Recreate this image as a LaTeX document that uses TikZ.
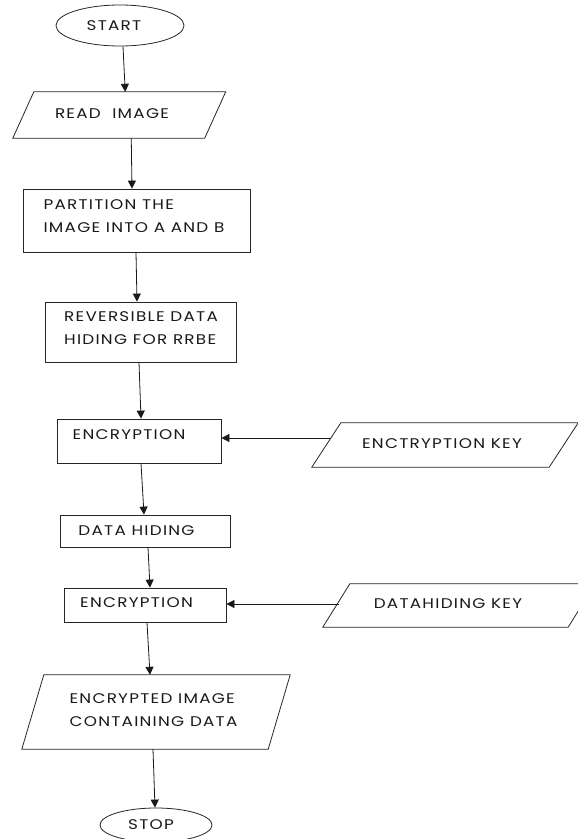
\documentclass[tikz,border=0pt]{standalone}
\usepackage{fontspec}
\setmainfont{Poppins}[LetterSpace=9,FakeStretch=1.2]
\usetikzlibrary{arrows.meta,shapes.geometric,calc}
\newcommand{\parallelo}[2]{%
  \draw[shapeline] ($(#1.south west)+(-#2/2,0)$) -- ($(#1.south east)+(-#2/2,0)$) -- ($(#1.north east)+(#2/2,0)$) -- ($(#1.north west)+(#2/2,0)$) -- cycle;}
\begin{document}
\begin{tikzpicture}[x=1pt,y=-1pt,
  shapeline/.style={draw=black!85, line width=0.8pt},
  arr/.style={draw=black!90, line width=0.8pt, -{Triangle[length=8pt,width=8pt]}},
  box/.style={shapeline, rectangle, inner sep=0pt},
  term/.style={shapeline, ellipse, inner sep=0pt},
  io/.style={rectangle, inner sep=0pt},
  txt/.style={inner sep=0pt, align=left, text=black!90, font=\fontsize{14}{23}\selectfont}]
\clip (0,0) rectangle (578,839);
\fill[white] (0,0) rectangle (578,839);
% shapes
\node[term, minimum width=128pt, minimum height=41pt] (start) at (120,25.5) {};
\node[txt] (tstart) at (114,26) {START};
\node[io, minimum width=191.5pt, minimum height=46pt] (read) at (119.25,115) {};
\parallelo{read}{21}
\node[txt] (tread) at (112,114) {READ\ \ IMAGE};
\node[box, minimum width=227pt, minimum height=63pt] (part) at (136.5,220.5) {};
\node[txt] (tpart) at (134,216.5) {PARTITION THE\\IMAGE INTO A AND B};
\node[box, minimum width=191pt, minimum height=60pt] (rev) at (140.5,332) {};
\node[txt] (trev) at (141,328.5) {REVERSIBLE DATA\\HIDING FOR RRBE};
\node[box, minimum width=164pt, minimum height=44pt] (enca) at (139,441) {};
\node[txt] (tenca) at (129,435) {ENCRYPTION};
\node[io, minimum width=237pt, minimum height=44pt] (enckey) at (445,445) {};
\parallelo{enckey}{29}
\node[txt] (tenckey) at (442,444) {ENCTRYPTION KEY};
\node[box, minimum width=170pt, minimum height=32pt] (dh) at (145,531) {};
\node[txt] (tdh) at (136.5,531) {DATA HIDING};
\node[box, minimum width=162pt, minimum height=34pt] (encb) at (145,605) {};
\node[txt] (tencb) at (136.5,603) {ENCRYPTION};
\node[io, minimum width=245pt, minimum height=43pt] (dhkey) at (459,605.5) {};
\parallelo{dhkey}{27}
\node[txt] (tdhkey) at (448,604) {DATAHIDING KEY};
\node[io, minimum width=246pt, minimum height=74pt] (img) at (156,712) {};
\parallelo{img}{22}
\node[txt] (timg) at (153.5,710.5) {ENCRYPTED IMAGE\\CONTAINING DATA};
\node[term, minimum width=112pt, minimum height=34pt] (stop) at (156,825) {};
\node[txt] (tstop) at (151,825) {STOP};
% connectors
\draw[arr] ([xshift=3pt]start.south) -- ([xshift=6pt]read.north);
\draw[arr] ([xshift=12pt]read.south) -- ([xshift=-4.5pt]part.north);
\draw[arr] ([xshift=-0.5pt]part.south) -- ([xshift=-3.5pt]rev.north);
\draw[arr] ([xshift=-1.5pt]rev.south) -- ([xshift=2pt]enca.north);
\draw[arr] ([xshift=2pt]enca.south) -- ([xshift=-1pt]dh.north);
\draw[arr] ([xshift=3pt]dh.south) -- ([xshift=5pt]encb.north);
\draw[arr] ([xshift=2pt]encb.south) -- ([xshift=-6pt]img.north);
\draw[arr] ([xshift=-3pt]img.south) -- ([xshift=-1pt]stop.north);
\draw[arr] ([xshift=4pt,yshift=7pt]enckey.west) -- ([yshift=3pt]enca.east);
\draw[arr] ([xshift=3pt,yshift=1.5pt]dhkey.west) -- ([yshift=1pt]encb.east);
\end{tikzpicture}
\end{document}
